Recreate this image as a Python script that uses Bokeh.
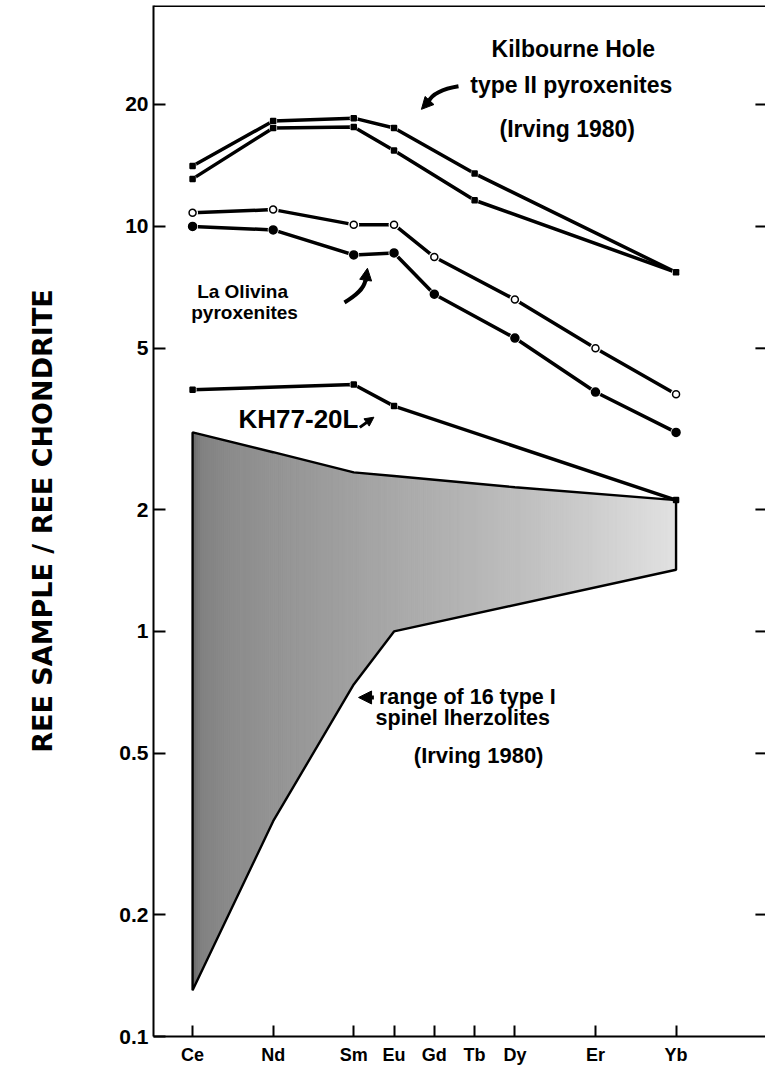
import numpy as np
from bokeh.plotting import figure
from bokeh.models import FixedTicker, Arrow, NormalHead, Label, Span
from bokeh.embed import file_html
from bokeh.resources import INLINE

# ---------------- data ----------------
elements = ["Ce", "Nd", "Sm", "Eu", "Gd", "Tb", "Dy", "Er", "Yb"]
atomic_numbers = [58, 60, 62, 63, 64, 65, 66, 68, 70]
y_ticks = [0.1, 0.2, 0.5, 1, 2, 5, 10, 20]
y_tick_labels = ["0.1", "0.2", "0.5", "1", "2", "5", "10", "20"]

kh_a_elements = ["Ce", "Nd", "Sm", "Eu", "Tb", "Yb"]
kh_a_values = [14.1, 18.2, 18.5, 17.5, 13.5, 7.7]
kh_b_elements = ["Ce", "Nd", "Sm", "Eu", "Tb", "Yb"]
kh_b_values = [13.1, 17.5, 17.6, 15.4, 11.6, 7.7]

lo_open_elements = ["Ce", "Nd", "Sm", "Eu", "Gd", "Dy", "Er", "Yb"]
lo_open_values = [10.8, 11.0, 10.1, 10.1, 8.4, 6.6, 5.0, 3.85]
lo_filled_elements = ["Ce", "Nd", "Sm", "Eu", "Gd", "Dy", "Er", "Yb"]
lo_filled_values = [10.0, 9.8, 8.5, 8.6, 6.8, 5.3, 3.9, 3.1]

kh77_elements = ["Ce", "Sm", "Eu", "Yb"]
kh77_values = [3.95, 4.07, 3.6, 2.11]

range_upper_elements = ["Ce", "Nd", "Sm", "Eu", "Dy", "Yb"]
range_upper_values = [3.1, 2.77, 2.47, 2.42, 2.27, 2.11]
range_lower_elements = ["Ce", "Nd", "Sm", "Eu", "Yb"]
range_lower_values = [0.13, 0.34, 0.74, 1.0, 1.42]

Z = dict(zip(elements, atomic_numbers))


def zx(els):
    return [Z[e] for e in els]


X_START, X_END = 57.03, 72.22
Y_START, Y_END = 0.1, 35.1

# ---------------- figure ----------------
p = figure(width=765, height=1068, y_axis_type="log",
           x_range=(X_START, X_END), y_range=(Y_START, Y_END),
           output_backend="svg", toolbar_location=None,
           min_border_left=153, min_border_right=0, min_border_top=5,
           min_border_bottom=32)
p.outline_line_color = None
p.xgrid.grid_line_color = None
p.ygrid.grid_line_color = None
p.background_fill_color = "white"
p.border_fill_color = "white"

BOLD = "Liberation Sans"

# left axis
ya = p.yaxis[0]
ya.ticker = FixedTicker(ticks=y_ticks)
ya.major_label_overrides = {t: l for t, l in zip(y_ticks, y_tick_labels)}
ya.major_tick_in = 12
ya.major_tick_out = 0
ya.minor_tick_line_color = None
ya.axis_line_width = 2
ya.axis_line_color = "black"
ya.major_tick_line_width = 2
ya.major_tick_line_color = "black"
ya.major_label_text_font = BOLD
ya.major_label_text_font_style = "bold"
ya.major_label_text_font_size = "21px"
ya.major_label_text_color = "black"
ya.major_label_standoff = 5
ya.axis_label = "REE SAMPLE / REE CHONDRITE"
ya.axis_label_text_font = "DejaVu Sans"
ya.axis_label_text_font_style = "bold"
ya.axis_label_text_font_size = "27px"
ya.axis_label_text_color = "black"
ya.axis_label_standoff = 58

# bottom axis
xa = p.xaxis[0]
xa.ticker = FixedTicker(ticks=atomic_numbers)
xa.major_label_overrides = {z: e for z, e in zip(atomic_numbers, elements)}
xa.major_tick_in = 11
xa.major_tick_out = 0
xa.minor_tick_line_color = None
xa.axis_line_width = 2
xa.axis_line_color = "black"
xa.major_tick_line_width = 2
xa.major_tick_line_color = "black"
xa.major_label_text_font = BOLD
xa.major_label_text_font_style = "bold"
xa.major_label_text_font_size = "18px"
xa.major_label_text_color = "black"
xa.major_label_standoff = 8

# top frame line
p.add_layout(Span(location=Y_END, dimension="width", line_color="black",
                  line_width=3))

# right-hand inward ticks (from the same tick list)
tick_len = 0.25
rt = y_ticks[1:]
p.segment(x0=[X_END - tick_len] * len(rt), y0=rt, x1=[X_END] * len(rt), y1=rt,
          line_color="black", line_width=2)

# ---------------- shaded range ----------------
ux = np.array(zx(range_upper_elements), dtype=float)
uy = np.log10(range_upper_values)
lx = np.array(zx(range_lower_elements), dtype=float)
ly = np.log10(range_lower_values)
x0, x1 = ux.min(), ux.max()
grid = np.unique(np.concatenate([np.linspace(x0, x1, 241), ux, lx]))
hi = np.interp(grid, ux, uy)
lo = np.interp(grid, lx, ly)

tt = np.array([0.0, 0.02, 0.1, 0.4, 0.67, 0.83, 1.0])
gg = np.array([105, 130, 142, 167, 190, 206, 226])
xs, ys, cols = [], [], []
for i in range(len(grid) - 1):
    xs.append([grid[i], grid[i + 1], grid[i + 1], grid[i]])
    ys.append([10 ** lo[i], 10 ** lo[i + 1], 10 ** hi[i + 1], 10 ** hi[i]])
    t = ((grid[i] + grid[i + 1]) / 2 - x0) / (x1 - x0)
    g = int(np.interp(t, tt, gg))
    cols.append("#%02x%02x%02x" % (g, g, g))
p.patches(xs, ys, fill_color=cols, line_color=cols, line_width=1)

outline_x = list(ux) + list(lx[::-1])
outline_y = list(range_upper_values) + list(range_lower_values[::-1])
p.patch(outline_x + [outline_x[0]], outline_y + [outline_y[0]],
        fill_color=None, line_color="black", line_width=2.4)


# ---------------- series ----------------
def series(els, vals, marker, size, fill, gap=9, gap_last=True):
    x = zx(els)
    p.line(x, vals, line_color="black", line_width=3.5)
    gx = x if gap_last else x[:-1]
    gv = vals if gap_last else vals[:-1]
    p.scatter(gx, gv, marker="circle", size=gap, fill_color="white",
              line_color=None)
    p.scatter(x, vals, marker=marker, size=size, fill_color=fill,
              line_color="black", line_width=1.5)


series(kh_b_elements, kh_b_values, "square_x", 5, "black", gap=8)
series(kh_a_elements, kh_a_values, "square_x", 5, "black", gap=8)
series(lo_open_elements, lo_open_values, "circle", 7, "white", gap=11)
series(lo_filled_elements, lo_filled_values, "circle", 8, "black", gap=11)
series(kh77_elements, kh77_values, "square_x", 5, "black", gap=8,
       gap_last=False)


# ---------------- annotations ----------------
def label(x, y, text, size, align="center"):
    p.add_layout(Label(x=x, y=y, text=text, text_font=BOLD,
                       text_font_style="bold", text_font_size=size,
                       text_align=align, text_baseline="middle",
                       text_color="black"))


label(67.45, 27.4, "Kilbourne Hole", "23px")
label(67.4, 22.4, "type II pyroxenites", "23px")
label(67.3, 17.4, "(Irving 1980)", "23px")
label(59.24, 6.91, "La Olivina", "19px")
label(59.29, 6.13, "pyroxenites", "19px")
label(59.14, 3.34, "KH77-20L", "26px", align="left")
label(64.82, 0.687, "range of 16 type I", "21.5px")
label(64.78, 0.610, "spinel  lherzolites", "21.5px")
label(65.1, 0.494, "(Irving 1980)", "22px")

# curved arrow -> Kilbourne Hole lines
p.bezier(x0=[64.60], y0=[22.17], x1=[63.86], y1=[20.35],
         cx0=[64.15], cy0=[21.79], cx1=[63.95], cy1=[21.2],
         line_color="black", line_width=4)
p.add_layout(Arrow(end=NormalHead(size=12, fill_color="black",
                                  line_color="black"),
                   x_start=63.88, y_start=20.45, x_end=63.68, y_end=19.45,
                   line_width=4, line_color="black"))
# curved arrow -> La Olivina
p.bezier(x0=[61.77], y0=[6.49], x1=[62.29], y1=[7.36],
         cx0=[62.05], cy0=[6.75], cx1=[62.25], cy1=[7.0],
         line_color="black", line_width=4)
p.add_layout(Arrow(end=NormalHead(size=12, fill_color="black",
                                  line_color="black"),
                   x_start=62.29, y_start=7.3, x_end=62.34, y_end=7.88,
                   line_width=4, line_color="black"))
# KH77-20L small arrow
p.add_layout(Arrow(end=NormalHead(size=9, fill_color="black",
                                  line_color="black"),
                   x_start=62.15, y_start=3.19, x_end=62.5, y_end=3.38,
                   line_width=3, line_color="black"))
# range arrow
p.add_layout(Arrow(end=NormalHead(size=13, fill_color="black",
                                  line_color="black"),
                   x_start=62.5, y_start=0.687, x_end=62.12, y_end=0.687,
                   line_width=4, line_color="black"))

open("out.html", "w").write(file_html(p, INLINE))
